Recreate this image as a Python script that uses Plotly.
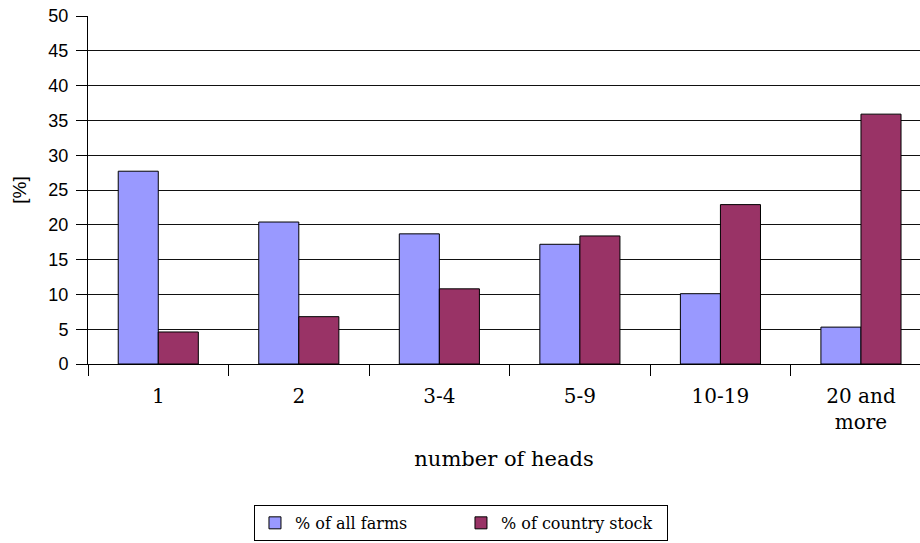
import plotly.graph_objects as go

categories = ["1", "2", "3-4", "5-9", "10-19", "20 and<br>more"]
farms_share = [27.7, 20.4, 18.7, 17.2, 10.1, 5.3]
stock_share = [4.6, 6.8, 10.8, 18.4, 22.9, 35.9]
y_ticks = list(range(0, 51, 5))

serif = "DejaVu Serif"
sans = "Liberation Sans, Arial"

fig = go.Figure()
fig.add_bar(x=categories, y=farms_share, name="% of all farms",
            marker=dict(color="#9999FF", line=dict(color="#000000", width=1)))
fig.add_bar(x=categories, y=stock_share, name="% of country stock",
            marker=dict(color="#993366", line=dict(color="#000000", width=1)))

fig.update_layout(
    width=920, height=543,
    margin=dict(l=88, r=0, t=16, b=179, autoexpand=False),
    paper_bgcolor="white", plot_bgcolor="white",
    barmode="group", bargap=0.43, bargroupgap=0,
    showlegend=True,
    legend=dict(orientation="h", x=0.1995, xanchor="left", y=-0.405, yanchor="top",
                bordercolor="#000000", borderwidth=1,
                font=dict(family=serif, size=16, color="#000"),
                entrywidth=161, itemwidth=30, tracegroupgap=0),
)
fig.update_xaxes(
    type="category", range=[-0.5, 5.42], automargin=False,
    tickson="boundaries", ticks="outside", ticklen=11, tickcolor="#000",
    ticklabelstandoff=14,
    showline=True, linecolor="#000", linewidth=1, showgrid=False,
    tickfont=dict(family=serif, size=20, color="#000"),
    title=dict(text="number of heads", font=dict(family=serif, size=21, color="#000"),
               standoff=18),
)
fig.update_yaxes(
    range=[0, 50], tickvals=y_ticks, ticks="outside", ticklen=11, tickcolor="#000",
    automargin=False, ticklabelstandoff=4,
    showline=True, linecolor="#000", linewidth=1,
    showgrid=True, gridcolor="#111", gridwidth=1, zeroline=False,
    tickfont=dict(family=sans, size=18, color="#000"),
    title=dict(text="[%]", font=dict(family=sans, size=19, color="#000"), standoff=16),
)

fig.write_html("out.html")
